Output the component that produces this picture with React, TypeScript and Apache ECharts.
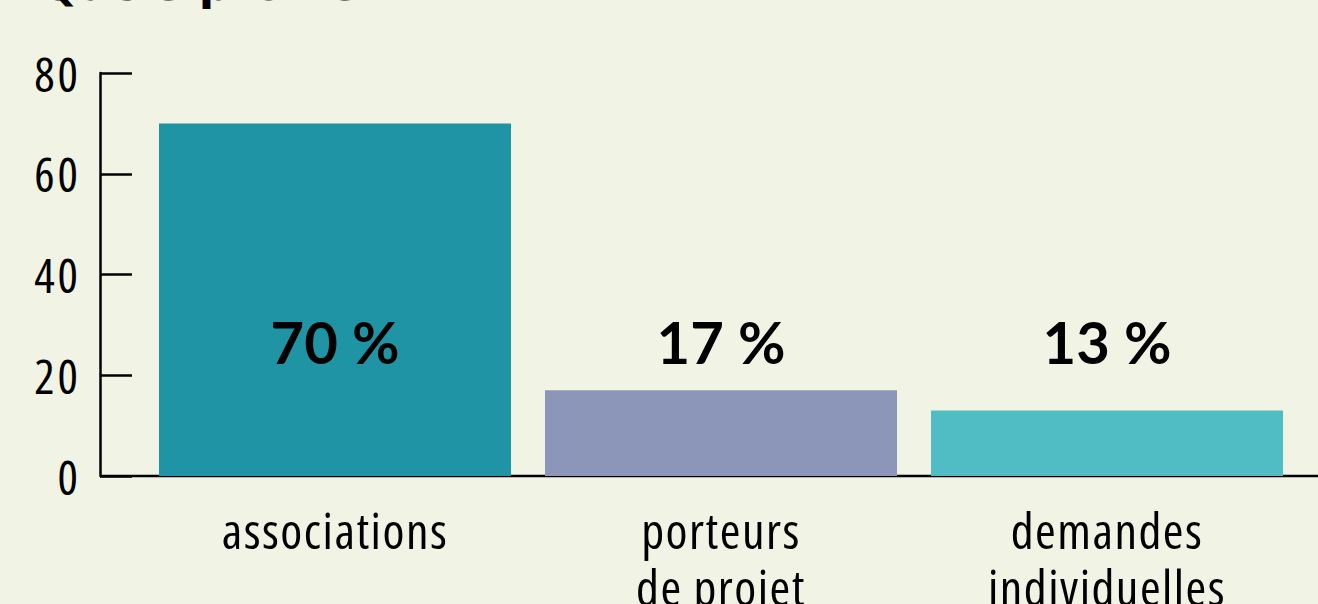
import React, { useEffect, useRef } from "react";
import * as echarts from "echarts";

const categories = ["associations", "porteurs\nde projet", "demandes\nindividuelles"];
const values = [70, 17, 13];
const valueLabels = ["70 %", "17 %", "13 %"];
const barColors = ["#1e94a5", "#8c96b8", "#50bcc3"];
const yTicks = { min: 0, max: 80, interval: 20 };
const title = "Quels profils ?";

const catFont = '"Open Sans", sans-serif';
const tickFont = '"Open Sans", Arial, sans-serif';

export default function App() {
  const ref = useRef<HTMLDivElement>(null);
  useEffect(() => {
    if (!ref.current) return;
    const styleEl = document.createElement("style");
    styleEl.textContent =
      ".chart-root text[style*='Open Sans'] { font-stretch: 75% !important; letter-spacing: 1.5px; }" +
      ".chart-root text[style*='Arial'] { letter-spacing: 3px; }";
    document.head.appendChild(styleEl);
    const chart = echarts.init(ref.current, undefined, { renderer: "svg" });
    chart.setOption({
      animation: false,
      backgroundColor: "#f1f4e4",
      grid: { left: 142, right: 18, top: 73, bottom: 128, containLabel: false, outerBoundsMode: "none" },
      graphic: [
        {
          type: "text",
          left: 40,
          top: -38,
          style: { text: title, font: 'bold 45px "DejaVu Sans", sans-serif', fill: "#000" },
        },
        {
          type: "line",
          shape: { x1: 100, y1: 476, x2: 1318, y2: 476 },
          style: { stroke: "#000", lineWidth: 2.5 },
        },
      ],
      xAxis: {
        type: "category",
        data: categories,
        axisLine: { show: false },
        axisTick: { show: false },
        axisLabel: {
          color: "#000",
          fontFamily: catFont,
          fontSize: 50,
          lineHeight: 57,
          margin: 25,
          interval: 0,
          verticalAlign: "top",
        },
      },
      yAxis: {
        type: "value",
        min: yTicks.min,
        max: yTicks.max,
        interval: yTicks.interval,
        offset: 42,
        splitLine: { show: false },
        axisLine: { show: true, lineStyle: { color: "#000", width: 2.5 } },
        axisTick: { show: true, inside: true, length: 32, lineStyle: { color: "#000", width: 2.5 } },
        axisLabel: { color: "#000", fontFamily: tickFont, fontSize: 48, margin: 19 },
      },
      series: [
        {
          type: "bar",
          data: values.map((v, i) => ({ value: v, itemStyle: { color: barColors[i] } })),
          barWidth: 352,
          label: {
            show: true,
            position: "insideBottom",
            distance: 106,
            formatter: (p: any) => valueLabels[p.dataIndex],
            color: "#000",
            fontFamily: "Lato, sans-serif",
            fontWeight: "bold",
            fontSize: 58,
          },
        },
      ],
    });
    return () => {
      chart.dispose();
      styleEl.remove();
    };
  }, []);
  return (
    <div
      ref={ref}
      className="chart-root"
      style={{ position: "fixed", left: 0, top: 0, width: 1318, height: 604 }}
    />
  );
}
